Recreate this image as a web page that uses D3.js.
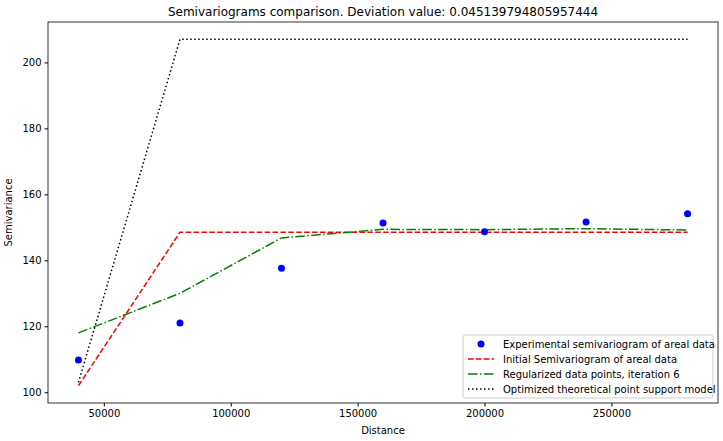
<!DOCTYPE html>
<html><head><meta charset="utf-8">
<script src="https://cdn.jsdelivr.net/npm/d3@7"></script>
<style>body{margin:0;background:#fff}text{font-family:"DejaVu Sans",sans-serif}</style>
</head><body><svg id="chart" width="723" height="441"></svg>
<script>
const lags = [40000, 80000, 120000, 160000, 200000, 240000, 280000];
const experimental = [109.8, 121.0, 137.6, 151.3, 148.7, 151.6, 154.1];
const initialModel = [102.0, 148.5, 148.5, 148.5, 148.5, 148.5, 148.5];
const regularized = [118.0, 130.0, 146.8, 149.4, 149.3, 149.6, 149.2];
const optimized = [103.0, 207.0, 207.0, 207.0, 207.0, 207.0, 207.0];
const xTicks = [50000, 100000, 150000, 200000, 250000];
const yTicks = [100, 120, 140, 160, 180, 200];

const margin = { top: 22, right: 5, bottom: 38, left: 48 };
const width = 723 - margin.left - margin.right;
const height = 441 - margin.top - margin.bottom;

const svg = d3.select("#chart").append("g")
    .attr("transform", `translate(${margin.left},${margin.top})`);

const x = d3.scaleLinear().domain([28000, 292000]).range([0, width]);
const y = d3.scaleLinear().domain([96.75, 212.25]).range([height, 0]);

svg.append("g").attr("transform", `translate(0,${height})`)
    .call(d3.axisBottom(x).tickValues(xTicks).tickFormat(d3.format("d")).tickSize(3.5).tickPadding(3));
svg.append("g")
    .call(d3.axisLeft(y).tickValues(yTicks).tickSize(3.5).tickPadding(3));
svg.selectAll(".tick text").style("font-size", "10px").attr("fill", "#000");
svg.selectAll(".domain").remove();
svg.append("rect").attr("width", width).attr("height", height)
    .attr("fill", "none").attr("stroke", "#000").attr("stroke-width", 0.8);

const line = d3.line().x((d, i) => x(lags[i])).y(d => y(d));
const styles = [
    { data: initialModel, color: "red", dash: "5.5,2.4" },
    { data: regularized, color: "green", dash: "9.6,2.4,1.5,2.4" },
    { data: optimized, color: "black", dash: "1.5,2.5" }
];
styles.forEach(s => {
    svg.append("path").datum(s.data).attr("d", line)
        .attr("fill", "none").attr("stroke", s.color)
        .attr("stroke-width", 1.5).attr("stroke-dasharray", s.dash);
});
svg.selectAll("circle.exp").data(experimental).enter().append("circle")
    .attr("cx", (d, i) => x(lags[i])).attr("cy", d => y(d))
    .attr("r", 3.5).attr("fill", "blue");

svg.append("text").attr("x", width / 2).attr("y", -6).attr("text-anchor", "middle")
    .style("font-size", "12px").text("Semivariograms comparison. Deviation value: 0.045139794805957444");
svg.append("text").attr("x", width / 2).attr("y", height + 31).attr("text-anchor", "middle")
    .style("font-size", "10px").text("Distance");
svg.append("text").attr("transform", "rotate(-90)").attr("x", -height / 2).attr("y", -36)
    .attr("text-anchor", "middle").style("font-size", "10px").text("Semivariance");

// legend
const labels = ["Experimental semivariogram of areal data", "Initial Semivariogram of areal data",
    "Regularized data points, iteration 6", "Optimized theoretical point support model"];
const lg = svg.append("g").attr("transform", `translate(${width - 255},${height - 68})`);
lg.append("rect").attr("width", 250).attr("height", 63).attr("rx", 2)
    .attr("fill", "white").attr("fill-opacity", 0.8).attr("stroke", "#ccc");
labels.forEach((t, i) => {
    const cy = 9 + i * 15;
    if (i === 0) {
        lg.append("circle").attr("cx", 18).attr("cy", cy).attr("r", 3.5).attr("fill", "blue");
    } else {
        const s = styles[i - 1];
        lg.append("line").attr("x1", 5).attr("x2", 31).attr("y1", cy).attr("y2", cy)
            .attr("stroke", s.color).attr("stroke-width", 1.5).attr("stroke-dasharray", s.dash);
    }
    lg.append("text").attr("x", 40).attr("y", cy + 3.5).style("font-size", "10px").text(t);
});
</script></body></html>
